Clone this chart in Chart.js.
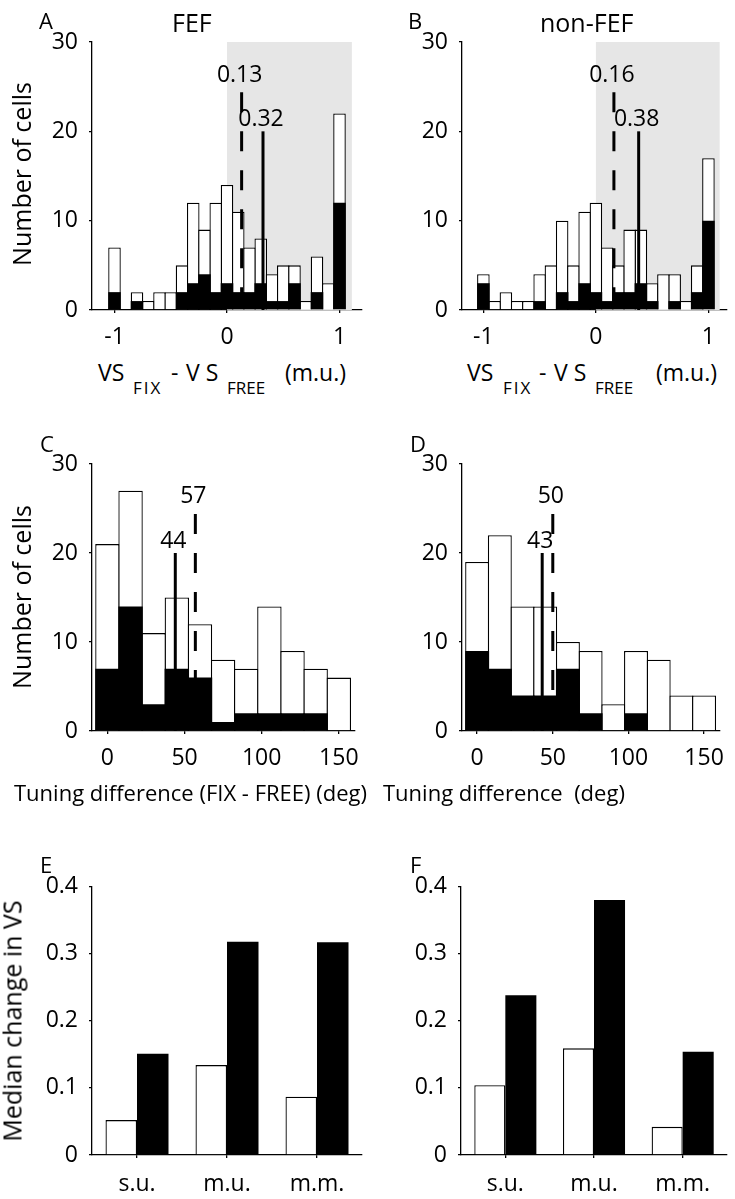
<!DOCTYPE html>
<html><head><meta charset="utf-8">
<script src="https://cdn.jsdelivr.net/npm/chart.js@4.4.1/dist/chart.umd.min.js"></script>
<style>
html,body{margin:0;padding:0;background:#fff}
body{width:735px;height:1199px;position:relative;overflow:hidden;font-family:"Open Sans",sans-serif;color:#000}
.box{position:absolute}
.t{position:absolute;white-space:pre;line-height:1;font-family:"Open Sans",sans-serif}
.rot{position:absolute;white-space:pre;line-height:1;font-family:"Open Sans",sans-serif;transform:translate(-50%,-50%) rotate(-90deg)}
</style></head>
<body>
<div class="box" style="left:0;top:0;width:370px;height:350px"><canvas id="cA"></canvas></div>
<div class="box" style="left:370px;top:0;width:365px;height:350px"><canvas id="cB"></canvas></div>
<div class="box" style="left:0;top:420px;width:370px;height:351px"><canvas id="cC"></canvas></div>
<div class="box" style="left:370px;top:420px;width:365px;height:351px"><canvas id="cD"></canvas></div>
<div class="box" style="left:0;top:840px;width:370px;height:359px"><canvas id="cE"></canvas></div>
<div class="box" style="left:370px;top:840px;width:365px;height:359px"><canvas id="cF"></canvas></div>

<!-- panel letters and titles -->
<div class="t" style="left:39px;top:9px;font-size:22px">A</div>
<div class="t" style="left:172px;top:10px;font-size:25px">FEF</div>
<div class="t" style="left:408px;top:9px;font-size:22px">B</div>
<div class="t" style="left:540px;top:10px;font-size:25px">non-FEF</div>
<div class="t" style="left:40px;top:432px;font-size:22px">C</div>
<div class="t" style="left:410px;top:432px;font-size:22px">D</div>
<div class="t" style="left:40px;top:853px;font-size:22px">E</div>
<div class="t" style="left:410px;top:853px;font-size:22px">F</div>

<!-- y axis titles -->
<div class="rot" style="left:21px;top:174px;font-size:25px">Number of cells</div>
<div class="rot" style="left:21px;top:597px;font-size:25px">Number of cells</div>
<div class="rot" style="left:12px;top:1021px;font-size:25px">Median change in VS</div>

<!-- x axis titles A -->
<div class="t" style="left:98px;top:361px;font-size:23px">VS</div>
<div class="t" style="left:133px;top:379px;font-size:17px;letter-spacing:2px">FIX</div>
<div class="t" style="left:171px;top:361px;font-size:23px">-</div>
<div class="t" style="left:186px;top:361px;font-size:23px">V S</div>
<div class="t" style="left:227px;top:379px;font-size:17px">FREE</div>
<div class="t" style="left:285px;top:361px;font-size:23px">(m.u.)</div>
<!-- x axis titles B -->
<div class="t" style="left:467px;top:361px;font-size:23px">VS</div>
<div class="t" style="left:503px;top:379px;font-size:17px;letter-spacing:2px">FIX</div>
<div class="t" style="left:539px;top:361px;font-size:23px">-</div>
<div class="t" style="left:554px;top:361px;font-size:23px">V S</div>
<div class="t" style="left:595px;top:379px;font-size:17px">FREE</div>
<div class="t" style="left:656px;top:361px;font-size:23px">(m.u.)</div>
<!-- x axis titles C, D -->
<div class="t" style="left:14px;top:781px;font-size:22px">Tuning difference (FIX - FREE) (deg)</div>
<div class="t" style="left:383px;top:781px;font-size:22px">Tuning difference  (deg)</div>

<script>
// ---------- data ----------
const vsBins = [-1.0,-0.9,-0.8,-0.7,-0.6,-0.5,-0.4,-0.3,-0.2,-0.1,0.0,0.1,0.2,0.3,0.4,0.5,0.6,0.7,0.8,0.9,1.0];
const fefAll   = [7,0,2,1,2,2,5,12,9,12,14,11,7,8,4,5,5,1,6,3,22];
const fefBlack = [2,0,1,0,0,0,2,3,4,2,3,2,2,3,1,1,3,0,2,0,12];
const nonAll   = [4,1,2,1,1,4,5,10,5,11,12,7,5,9,9,3,4,4,1,5,17];
const nonBlack = [3,0,0,0,0,1,0,2,1,3,2,1,2,2,3,1,0,1,0,2,10];
const vsTicks = [-1,0,1];
const countTicks = [0,10,20,30];

const tuneBins = [0,15,30,45,60,75,90,105,120,135,150];
const tuneFefAll   = [21,27,11,15,12,8,7,14,9,7,6];
const tuneFefBlack = [7,14,3,7,6,1,2,2,2,2,0];
const tuneNonAll   = [19,22,14,14,10,9,3,9,8,4,4];
const tuneNonBlack = [9,7,4,4,7,2,0,2,0,0,0];
const tuneTicks = [0,50,100,150];

const unitTypes = ['s.u.','m.u.','m.m.'];
const fefMedWhite = [0.052,0.134,0.087];
const fefMedBlack = [0.151,0.318,0.317];
const nonMedWhite = [0.104,0.159,0.042];
const nonMedBlack = [0.238,0.380,0.154];
const medTicks = [0,0.1,0.2,0.3,0.4];

// medians marked on histograms: [value, label, dashed]
const medA = [[0.13,'0.13',true],[0.32,'0.32',false]];
const medB = [[0.16,'0.16',true],[0.38,'0.38',false]];
const medC = [[57,'57',true],[44,'44',false]];
const medD = [[50,'50',true],[43,'43',false]];
const shadeVS_A = [0, 1.11];
const shadeVS_B = [0, 1.10];

// ---------- plugin ----------
const annot = {
  id: 'annot',
  beforeDatasetsDraw(chart, args, o) {
    if (!o.shade) return;
    const {ctx, chartArea: a, scales: {x}} = chart;
    const x0 = x.getPixelForValue(o.shade[0]), x1 = x.getPixelForValue(o.shade[1]);
    ctx.save(); ctx.fillStyle = '#e6e6e6';
    ctx.fillRect(x0, a.top, x1 - x0, a.bottom - a.top);
    ctx.restore();
  },
  afterDatasetsDraw(chart, args, o) {
    if (!o.lines) return;
    const {ctx, scales: {x, y}} = chart;
    o.lines.forEach(([v, label, dashed]) => {
      const top = dashed ? 25 : 20;
      const px = x.getPixelForValue(v);
      ctx.save();
      ctx.strokeStyle = '#000'; ctx.lineWidth = 3; ctx.lineCap = 'butt';
      if (dashed) { ctx.setLineDash([20, 19]); ctx.lineDashOffset = 33.5; }
      ctx.beginPath(); ctx.moveTo(px, y.getPixelForValue(top)); ctx.lineTo(px, y.getPixelForValue(0)); ctx.stroke();
      ctx.setLineDash([]);
      ctx.fillStyle = '#000';
      ctx.font = '23px "Open Sans"'; ctx.textAlign = 'center'; ctx.textBaseline = 'middle';
      ctx.fillText(label, px - 2, y.getPixelForValue(top + 1.3));
      ctx.restore();
    });
  }
};

const FONT = {family: '"Open Sans"', size: 23};
function axisCommon(ticksArr, sizeFn, pad) {
  return {
    offset: false, z: 1,
    afterBuildTicks: s => { s.ticks = ticksArr.map(v => ({value: v})); },
    afterFit: sizeFn,
    grid: {display: true, drawOnChartArea: false, drawTicks: true, tickLength: 3, color: '#000', lineWidth: 1.3, offset: false},
    border: {display: true, color: '#000', width: 1.3},
    ticks: {font: FONT, color: '#000', padding: pad || 11, maxRotation: 0, autoSkip: false}
  };
}

function hist(id, bins, all, black, xmin, xmax, xTicks, bp, pad, lines, shade) {
  const mk = arr => bins.map((b, i) => ({x: b, y: arr[i]}));
  return new Chart(document.getElementById(id), {
    type: 'bar',
    data: {datasets: [
      {label: 'subset', data: mk(black), backgroundColor: '#000', borderColor: '#000', borderWidth: 0, grouped: false, order: 1, barPercentage: bp, categoryPercentage: 1},
      {label: 'all cells', data: mk(all), backgroundColor: '#fff', borderColor: '#000', borderWidth: 1.3, grouped: false, order: 2, barPercentage: bp, categoryPercentage: 1}
    ]},
    options: {
      responsive: true, maintainAspectRatio: false, animation: false,
      layout: {padding: pad},
      plugins: {legend: {display: false}, tooltip: {enabled: false}, annot: {lines, shade}},
      scales: {
        x: Object.assign({type: 'linear', min: xmin, max: xmax}, axisCommon(xTicks, s => { s.height = 40; })),
        y: Object.assign({type: 'linear', min: 0, max: 30}, axisCommon(countTicks, s => { s.width = 92; }))
      }
    },
    plugins: [annot]
  });
}

function medBars(id, white, black, yw, pad) {
  return new Chart(document.getElementById(id), {
    type: 'bar',
    data: {labels: unitTypes, datasets: [
      {label: 'white', data: white, backgroundColor: '#fff', borderColor: '#000', borderWidth: 1.3, categoryPercentage: 0.7, barPercentage: 1},
      {label: 'black', data: black, backgroundColor: '#000', borderColor: '#000', borderWidth: 0, categoryPercentage: 0.7, barPercentage: 1}
    ]},
    options: {
      responsive: true, maintainAspectRatio: false, animation: false,
      layout: {padding: pad},
      plugins: {legend: {display: false}, tooltip: {enabled: false}},
      scales: {
        x: Object.assign(axisCommon([], s => { s.height = 44; }, 13), {type: 'category', offset: true, afterBuildTicks: undefined}),
        y: Object.assign({type: 'linear', min: 0, max: 0.4}, axisCommon(medTicks, s => { s.width = yw; }))
      }
    }
  });
}

hist('cA', vsBins, fefAll, fefBlack, -1.2, 1.2, vsTicks, 1.116, {left: 0, top: 42, right: 8, bottom: 0}, medA, shadeVS_A);
hist('cB', vsBins, nonAll, nonBlack, -1.19, 1.165, vsTicks, 1.116, {left: 0, top: 42, right: 8, bottom: 0}, medB, shadeVS_B);
hist('cC', tuneBins, tuneFefAll, tuneFefBlack, -10, 160, tuneTicks, 1.055, {left: 0, top: 44, right: 8, bottom: 0}, medC, null);
hist('cD', tuneBins, tuneNonAll, tuneNonBlack, -10, 160, tuneTicks, 1.055, {left: 0, top: 44, right: 3, bottom: 0}, medD, null);
medBars('cE', fefMedWhite, fefMedBlack, 92, {left: 0, top: 46.7, right: 8, bottom: 0});
medBars('cF', nonMedWhite, nonMedBlack, 91, {left: 0, top: 46.7, right: 8, bottom: 0});
</script>
</body></html>
